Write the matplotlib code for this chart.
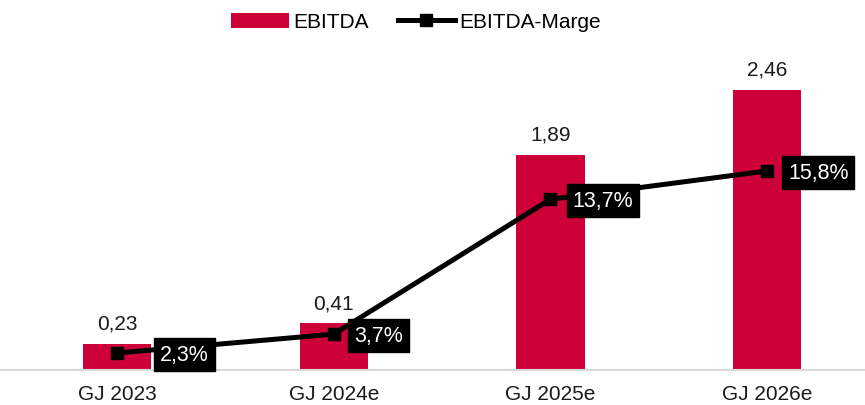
import matplotlib
matplotlib.use('Agg')
import matplotlib.pyplot as plt

plt.rcParams['font.family'] = ['Liberation Sans', 'DejaVu Sans']

# Daten
kategorien = ['GJ 2023', 'GJ 2024e', 'GJ 2025e', 'GJ 2026e']
ebitda = [0.23, 0.41, 1.89, 2.46]
marge = [2.3, 3.7, 13.7, 15.8]
ebitda_labels = ['0,23', '0,41', '1,89', '2,46']
marge_labels = ['2,3%', '3,7%', '13,7%', '15,8%']
label_offsets = [31, 15, 16, 15]  # Abstand Label zur Markierung (pt)

rot = '#CE0039'
x = list(range(len(kategorien)))

fig = plt.figure(figsize=(8.65, 4.06), dpi=100)
ax = fig.add_axes([0, 35 / 406, 1, 311 / 406])
ax2 = ax.twinx()

bars = ax.bar(x, ebitda, width=0.315, color=rot, label='EBITDA', zorder=2)
for xi, v, lab in zip(x, ebitda, ebitda_labels):
    ax.annotate(lab, (xi, v), xytext=(0, 8), textcoords='offset points',
                ha='center', va='bottom', fontsize=15, color='#1a1a1a')

line, = ax2.plot(x, marge, color='black', lw=3.6, marker='s', markersize=9,
                 label='EBITDA-Marge', zorder=3)
for xi, v, lab, off in zip(x, marge, marge_labels, label_offsets):
    ax2.annotate(lab, (xi, v), xytext=(off, -1), textcoords='offset points',
                 ha='left', va='center', fontsize=15.5, color='white',
                 bbox=dict(boxstyle='square,pad=0.28', fc='black', ec='black'))

ax.set_xlim(-0.54, 3.452)
ax.set_ylim(0, 2.733)
ax2.set_ylim(1.04, 24.1)

ax.set_xticks(x)
ax.set_xticklabels(kategorien, fontsize=15, color='#1a1a1a')
ax.tick_params(axis='x', length=0, pad=10)
ax.set_yticks([])
ax2.set_yticks([])
for a in (ax, ax2):
    for s in ['top', 'left', 'right']:
        a.spines[s].set_visible(False)
ax.spines['bottom'].set_color('#d9d9d9')
ax.spines['bottom'].set_linewidth(1.5)
ax2.spines['bottom'].set_visible(False)

fig.legend([bars, line], ['EBITDA', 'EBITDA-Marge'], loc='center',
           bbox_to_anchor=(416 / 865, 1 - 23 / 406), ncol=2, frameon=False,
           fontsize=15, handlelength=2.75, columnspacing=1.4, handletextpad=0.2)

fig.savefig('out.png', dpi=100)
